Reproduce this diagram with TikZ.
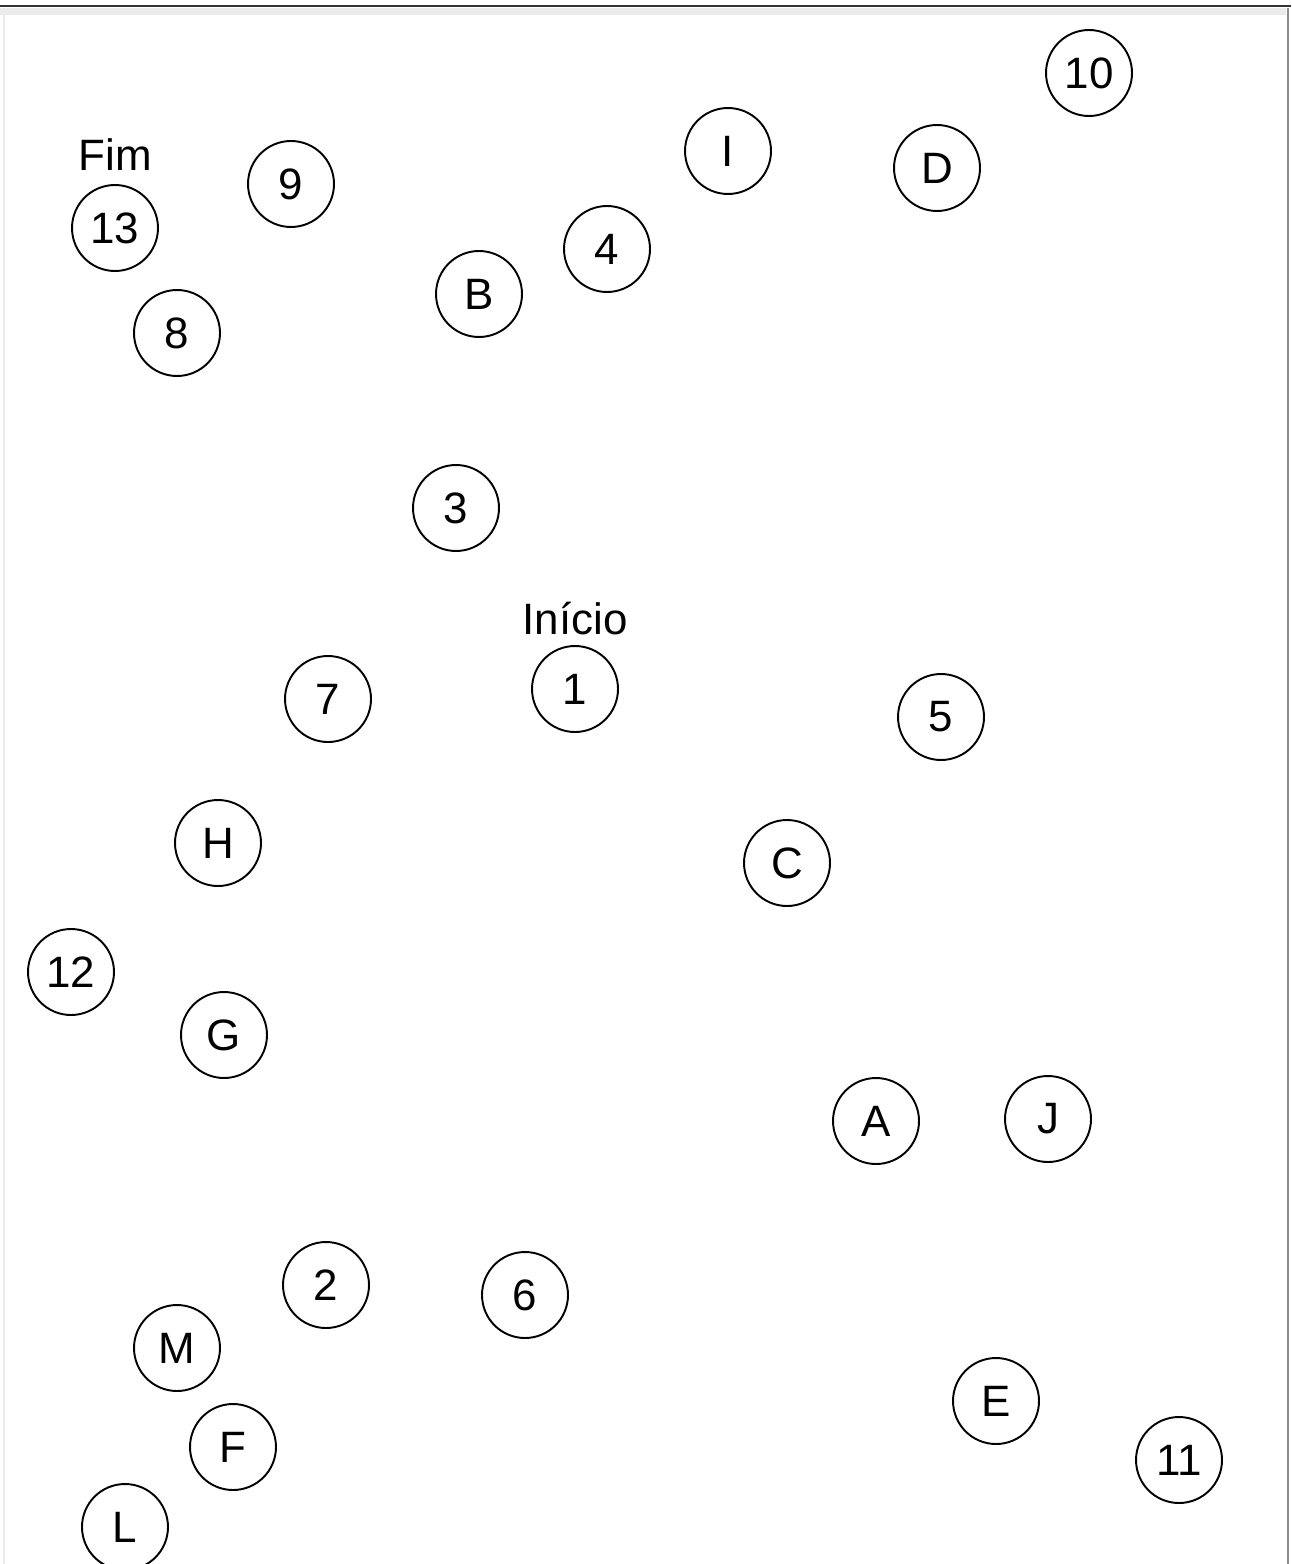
\documentclass[tikz,border=0pt]{standalone}
\usepackage{fontspec}
\setmainfont{Liberation Sans}
\usetikzlibrary{positioning}

\begin{document}
\begin{tikzpicture}[x=0.02cm, y=-0.02cm,
    spot/.style={circle, draw, line width=1.1pt, minimum size=1.72cm, inner sep=0pt,
        font=\fontsize{25}{30}\selectfont},
    tag/.style={inner sep=0pt, font=\fontsize{25}{30}\selectfont}]
    \useasboundingbox (0,0) rectangle (1291,1564);

    % frame
    \fill[black!8] (0,8) rectangle (1286,15);
    \draw[line width=1.6pt, black!80] (0,6) -- (1291,6);
    \draw[line width=1.4pt, black!45] (1288,8) -- (1288,1564);
    \draw[line width=0.8pt, black!8] (4,15) -- (4,1564);

    % points
    \node[spot] (n10) at (1089,73)   {10};
    \node[spot] (nI)  at (728,151)   {I};
    \node[spot] (nD)  at (937,168)   {D};
    \node[spot] (n9)  at (291,184)   {9};
    \node[spot] (n13) at (115,228)   {13};
    \node[spot] (n4)  at (607,249)   {4};
    \node[spot] (nB)  at (479,294)   {B};
    \node[spot] (n8)  at (177,333)   {8};
    \node[spot] (n3)  at (456,508)   {3};
    \node[spot] (n1)  at (575,689)   {1};
    \node[spot] (n7)  at (328,699)   {7};
    \node[spot] (n5)  at (941,717)   {5};
    \node[spot] (nH)  at (218,843)   {H};
    \node[spot] (nC)  at (787,863)   {C};
    \node[spot] (n12) at (71,972)    {12};
    \node[spot] (nG)  at (224,1035)  {G};
    \node[spot] (nA)  at (876,1121)  {A};
    \node[spot] (nJ)  at (1048,1119) {J};
    \node[spot] (n2)  at (326,1285)  {2};
    \node[spot] (n6)  at (525,1295)  {6};
    \node[spot] (nM)  at (177,1348)  {M};
    \node[spot] (nE)  at (996,1401)  {E};
    \node[spot] (nF)  at (233,1447)  {F};
    \node[spot] (n11) at (1179,1460) {11};
    \node[spot] (nL)  at (125,1527)  {L};

    % start and end
    \node[tag, above=0.26cm of n13] (fim) {Fim};
    \node[tag, above=0.2cm of n1] (inicio) {Início};
\end{tikzpicture}
\end{document}
